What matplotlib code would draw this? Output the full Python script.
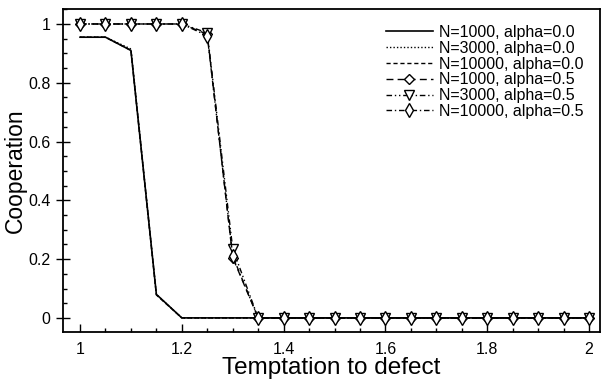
import matplotlib
matplotlib.use('Agg')
import matplotlib.pyplot as plt
from matplotlib.ticker import MultipleLocator

plt.rcParams['font.family'] = ['Liberation Sans', 'DejaVu Sans']

# temptation values, step 0.05
temptation = [1.0, 1.05, 1.1, 1.15, 1.2, 1.25, 1.3, 1.35, 1.4, 1.45, 1.5,
              1.55, 1.6, 1.65, 1.7, 1.75, 1.8, 1.85, 1.9, 1.95, 2.0]

tail = [0.0] * 14
coop_n1000_a0 = [0.955, 0.955, 0.91, 0.08, 0.0, 0.0, 0.0] + tail
coop_n3000_a0 = [0.955, 0.955, 0.915, 0.08, 0.0, 0.0, 0.0] + tail
coop_n10000_a0 = [0.955, 0.955, 0.91, 0.078, 0.0, 0.0, 0.0] + tail
coop_n1000_a5 = [1.0, 1.0, 1.0, 1.0, 1.0, 0.965, 0.205] + tail
coop_n3000_a5 = [1.0, 1.0, 1.0, 1.0, 1.0, 0.97, 0.235] + tail
coop_n10000_a5 = [1.0, 1.0, 1.0, 1.0, 1.0, 0.96, 0.21] + tail

labels = ['N=1000, alpha=0.0', 'N=3000, alpha=0.0', 'N=10000, alpha=0.0',
          'N=1000, alpha=0.5', 'N=3000, alpha=0.5', 'N=10000, alpha=0.5']

fig = plt.figure(figsize=(6.02, 3.84), dpi=100)
ax = fig.add_axes([0.1047, 0.1354, 0.892, 0.8412])

ax.plot(temptation, coop_n1000_a0, color='black', lw=1.2, ls='-', label=labels[0])
ax.plot(temptation, coop_n3000_a0, color='black', lw=1.0, ls=(0, (1, 1.5)), label=labels[1])
ax.plot(temptation, coop_n10000_a0, color='black', lw=1.0, ls=(0, (3, 2)), label=labels[2])

mk = dict(color='black', lw=1.0, markerfacecolor='white', markeredgecolor='black',
          markeredgewidth=1.0)
ax.plot(temptation, coop_n1000_a5, ls=(0, (5, 3)), marker='D', markersize=5.5, label=labels[3], **mk)
ax.plot(temptation, coop_n3000_a5, ls=(0, (4, 2, 1, 2, 1, 2)), marker='v', markersize=7.5, label=labels[4], **mk)
ax.plot(temptation, coop_n10000_a5, ls=(0, (4, 2, 1, 2)), marker='d', markersize=7, label=labels[5], **mk)

ax.set_xlim(0.9666, 2.0216)
ax.set_ylim(-0.048, 1.051)
ax.xaxis.set_minor_locator(MultipleLocator(0.05))
ax.yaxis.set_minor_locator(MultipleLocator(0.05))
ax.set_xticks([1, 1.2, 1.4, 1.6, 1.8, 2])
ax.set_xticklabels(['1', '1.2', '1.4', '1.6', '1.8', '2'])
ax.set_yticks([0, 0.2, 0.4, 0.6, 0.8, 1])
ax.set_yticklabels(['0', '0.2', '0.4', '0.6', '0.8', '1'])
ax.tick_params(which='both', direction='in', labelsize=11.5, width=1.0)
ax.tick_params(which='major', length=6, pad=7)
ax.tick_params(which='minor', length=3)
ax.tick_params(axis='y', which='major', direction='inout', length=10, pad=4)
for s in ax.spines.values():
    s.set_linewidth(1.3)

ax.set_xlabel('Temptation to defect', fontsize=17.5, labelpad=0)
ax.set_ylabel('Cooperation', fontsize=16.5, labelpad=1)

ax.legend(loc='upper right', frameon=False, fontsize=11.5, handlelength=2.9,
          labelspacing=0.05, handletextpad=0.4, borderaxespad=0.3,
          bbox_to_anchor=(0.99, 0.985))

fig.savefig('out.png', dpi=100)
